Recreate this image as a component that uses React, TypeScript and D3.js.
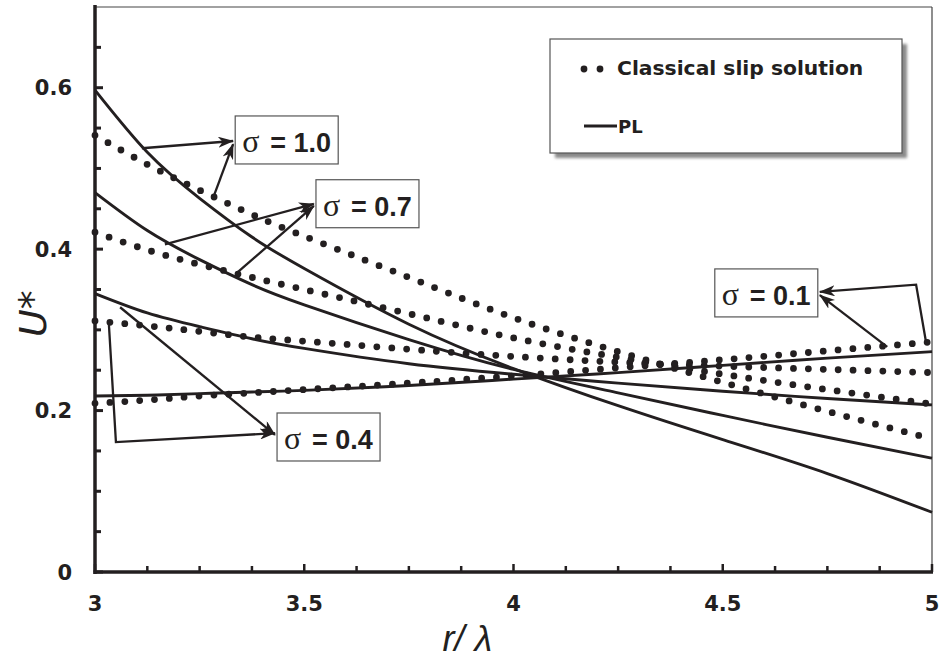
import React, {useEffect, useRef} from 'react';
import * as d3 from 'd3';

// r/lambda sample positions shared by every curve
const rValues = [3, 3.125, 3.25, 3.375, 3.5, 3.75, 4, 4.25, 4.5, 4.75, 5];

// PL (solid) curves
const pl10 = [0.597, 0.52, 0.463, 0.415, 0.376, 0.307, 0.252, 0.206, 0.164, 0.122, 0.074];
const pl07 = [0.470, 0.423, 0.387, 0.356, 0.331, 0.288, 0.251, 0.222, 0.194, 0.167, 0.141];
const pl04 = [0.345, 0.321, 0.304, 0.289, 0.277, 0.258, 0.245, 0.234, 0.224, 0.215, 0.207];
const pl01 = [0.218, 0.219, 0.221, 0.223, 0.225, 0.231, 0.239, 0.247, 0.256, 0.265, 0.273];

// classical slip solution (dotted) curves
const cs10 = [0.541, 0.505, 0.473, 0.443, 0.416, 0.365, 0.315, 0.273, 0.235, 0.199, 0.165];
const cs07 = [0.421, 0.399, 0.381, 0.365, 0.35, 0.32, 0.29, 0.266, 0.245, 0.226, 0.208];
const cs04 = [0.311, 0.305, 0.298, 0.291, 0.286, 0.276, 0.267, 0.26, 0.255, 0.251, 0.247];
const cs01 = [0.209, 0.213, 0.218, 0.222, 0.226, 0.234, 0.243, 0.253, 0.263, 0.274, 0.285];

const plSeries = [pl10, pl07, pl04, pl01];
const csSeries = [cs10, cs07, cs04, cs01];

const xTickLabels = [3, 3.5, 4, 4.5, 5];
const yTickLabels = [0, 0.2, 0.4, 0.6];

// annotation labels: box corner (r, U*) and arrows as lists of (r, U*) points
const sigmaLabels = ["1.0", "0.7", "0.4", "0.1"];
const labelBoxes = [[3.335, 0.565], [3.528, 0.486], [3.435, 0.197], [4.481, 0.3755]];
const labelArrows = [
  [[[3.112, 0.525], [3.33, 0.534]], [[3.284, 0.466], [3.33, 0.530]]],
  [[[3.167, 0.406], [3.523, 0.456]], [[3.339, 0.3705], [3.523, 0.4535]]],
  [[[3.06, 0.328], [3.43, 0.170]], [[3.033, 0.3085], [3.05, 0.161], [3.43, 0.172]]],
  [[[4.893, 0.279], [4.732, 0.343]], [[4.986, 0.284], [4.962, 0.356], [4.732, 0.347]]],
];

const ink = "#231f20";

function Chart() {
  const ref = useRef<SVGSVGElement>(null);

  useEffect(() => {
    const width = 940;
    const height = 659;
    const margin = {top: 7, left: 95, right: 8, bottom: 87};

    const svg = d3.select(ref.current).attr("width", width).attr("height", height);
    svg.selectAll("*").remove();

    const xScale = d3.scaleLinear().domain([3, 5]).range([margin.left, width - margin.right]);
    const yScale = d3.scaleLinear().domain([0, 0.7]).range([height - margin.bottom, margin.top]);
    const x0 = xScale(3), x1 = xScale(5), y0 = yScale(0), y1 = yScale(0.7);

    const defs = svg.append("defs");
    defs.append("marker").attr("id", "arr").attr("markerUnits", "userSpaceOnUse")
      .attr("viewBox", "0 0 16 11").attr("refX", 15).attr("refY", 5.5)
      .attr("markerWidth", 16).attr("markerHeight", 11).attr("orient", "auto")
      .append("path").attr("d", "M0,0 L16,5.5 L0,11 L4.5,5.5 Z").attr("fill", ink);
    defs.append("filter").attr("id", "blur").append("feGaussianBlur").attr("stdDeviation", 1.6);

    // frame: thin top/right, thick left/bottom
    svg.append("line").attr("x1", x0).attr("x2", x1).attr("y1", y1).attr("y2", y1).attr("stroke", "#444").attr("stroke-width", 1.2);
    svg.append("line").attr("x1", x1).attr("x2", x1).attr("y1", y1).attr("y2", y0).attr("stroke", "#444").attr("stroke-width", 1.2);

    const line = d3.line<number>().x((d, i) => xScale(rValues[i])).y(d => yScale(d)).curve(d3.curveNatural);

    svg.append("g").selectAll("path").data(csSeries).join("path")
      .attr("d", d => line(d)).attr("fill", "none").attr("stroke", ink)
      .attr("stroke-width", 6.8).attr("stroke-linecap", "round").attr("stroke-dasharray", "0 14.9");

    svg.append("g").selectAll("path").data(plSeries).join("path")
      .attr("d", d => line(d)).attr("fill", "none").attr("stroke", ink).attr("stroke-width", 2.9);

    // axes
    const yTicks = d3.range(0, 0.6501, 0.05);
    svg.append("g").selectAll("line").data(yTicks).join("line")
      .attr("x1", x0).attr("x2", (d, i) => x0 + (i % 4 === 0 ? 8 : 6))
      .attr("y1", d => yScale(d)).attr("y2", d => yScale(d)).attr("stroke", ink).attr("stroke-width", 3);
    const xTicks = d3.range(3, 5.0001, 0.125);
    svg.append("g").selectAll("line").data(xTicks).join("line")
      .attr("x1", d => xScale(d)).attr("x2", d => xScale(d))
      .attr("y1", y0).attr("y2", (d, i) => y0 - (i % 4 === 0 ? 8 : 6)).attr("stroke", ink).attr("stroke-width", 2.5);
    svg.append("line").attr("x1", x0).attr("x2", x0).attr("y1", y1 - 2).attr("y2", y0 + 2).attr("stroke", ink).attr("stroke-width", 3.5);
    svg.append("line").attr("x1", x0 - 1.5).attr("x2", x1 + 1).attr("y1", y0).attr("y2", y0).attr("stroke", ink).attr("stroke-width", 3.5);

    svg.append("g").selectAll("text").data(yTickLabels).join("text")
      .attr("x", x0 - 23).attr("y", d => yScale(d)).attr("dy", "0.36em").attr("text-anchor", "end")
      .attr("font-family", "DejaVu Sans").attr("font-weight", "bold").attr("font-size", 21).attr("fill", ink)
      .text(d => String(d));
    svg.append("g").selectAll("text").data(xTickLabels).join("text")
      .attr("x", d => xScale(d)).attr("y", y0 + 39).attr("text-anchor", "middle")
      .attr("font-family", "DejaVu Sans").attr("font-weight", "bold").attr("font-size", 21).attr("fill", ink)
      .text(d => String(d));

    svg.append("text").attr("x", xScale(3.89)).attr("y", height - 8).attr("text-anchor", "middle")
      .attr("font-family", "Liberation Sans").attr("font-style", "italic").attr("font-size", 36).attr("fill", ink)
      .text("r/ λ");
    svg.append("text").attr("transform", `translate(46, ${yScale(0.32)}) rotate(-90)`).attr("text-anchor", "middle")
      .attr("font-family", "DejaVu Sans").attr("font-style", "oblique").attr("font-size", 38).attr("fill", ink)
      .text("U*");

    // sigma annotations
    const boxW = 103, boxH = 48;
    const ann = svg.append("g");
    ann.selectAll("polyline").data(labelArrows.flat()).join("polyline")
      .attr("points", d => d.map(p => `${xScale(p[0])},${yScale(p[1])}`).join(" "))
      .attr("fill", "none").attr("stroke", ink).attr("stroke-width", 2.3).attr("marker-end", "url(#arr)");
    const box = ann.selectAll("g.box").data(sigmaLabels).join("g").attr("class", "box")
      .attr("transform", (d, i) => `translate(${xScale(labelBoxes[i][0])}, ${yScale(labelBoxes[i][1])})`);
    box.append("rect").attr("width", boxW).attr("height", boxH).attr("fill", "#fff").attr("stroke", "#555").attr("stroke-width", 1.2);
    box.append("text").attr("x", 7).attr("y", 36).attr("font-family", "Liberation Serif").attr("font-size", 32).attr("fill", ink).text("σ");
    box.append("text").attr("x", 35).attr("y", 36).attr("font-family", "Liberation Sans").attr("font-weight", "bold")
      .attr("font-size", 27).attr("fill", ink).text(d => `= ${d}`);

    // legend
    const lg = svg.append("g").attr("transform", "translate(550, 39)");
    lg.append("rect").attr("x", 5).attr("y", 5).attr("width", 352).attr("height", 114).attr("fill", "#8a8a8a").attr("filter", "url(#blur)");
    lg.append("rect").attr("width", 352).attr("height", 114).attr("fill", "#fff").attr("stroke", "#555").attr("stroke-width", 1.2);
    lg.append("g").selectAll("circle").data([0, 1]).join("circle")
      .attr("cx", d => 34 + d * 16).attr("cy", 30).attr("r", 3.4).attr("fill", ink);
    lg.append("text").attr("x", 67).attr("y", 36).attr("font-family", "DejaVu Sans").attr("font-weight", "bold")
      .attr("font-size", 20.3).attr("fill", ink).text("Classical slip solution");
    lg.append("line").attr("x1", 34).attr("x2", 67).attr("y1", 87).attr("y2", 87).attr("stroke", ink).attr("stroke-width", 2.9);
    lg.append("text").attr("x", 68).attr("y", 94).attr("font-family", "DejaVu Sans").attr("font-weight", "bold")
      .attr("font-size", 18).attr("fill", ink).text("PL");
  }, []);

  return <svg ref={ref} style={{position: "absolute", left: 0, top: 0, display: "block"}}></svg>;
}

export default function App() {
  return <Chart />;
}
